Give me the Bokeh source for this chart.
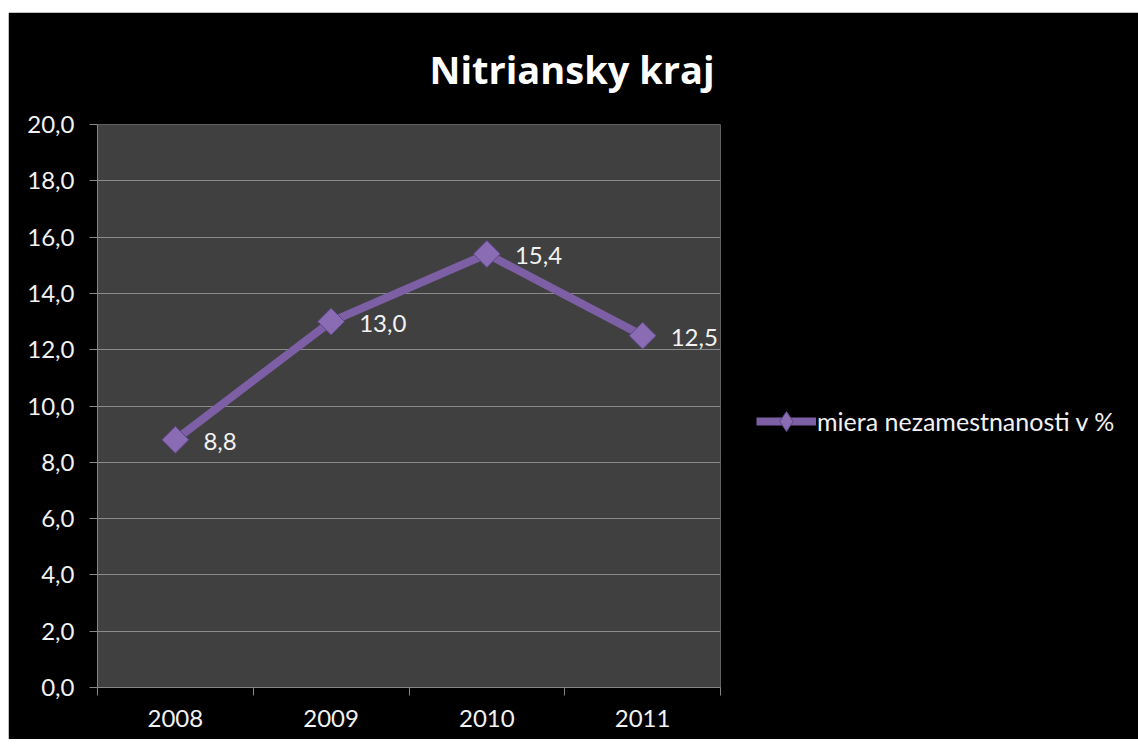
import numpy as np
from bokeh.plotting import figure
from bokeh.models import (Range1d, FixedTicker, LabelSet, ColumnDataSource,
                          Legend, LegendItem)
from bokeh.core.properties import value
from bokeh.embed import file_html
from bokeh.resources import INLINE

# ---- data ----
title_text = "Nitriansky  kraj"
series_name = "miera nezamestnanosti v %"
years = ["2008", "2009", "2010", "2011"]
values = [8.8, 13.0, 15.4, 12.5]
y_ticks = [0, 2, 4, 6, 8, 10, 12, 14, 16, 18, 20]

FONT = "Lato"
TXT = "#f2f2f2"
PURPLE = "#7d5fa6"

idx = [i + 0.5 for i in range(len(years))]
labels = [f"{v:.1f}".replace(".", ",") for v in values]
src = ColumnDataSource(dict(x=idx, y=values, lab=labels))

p = figure(frame_width=623, frame_height=563, output_backend="svg", toolbar_location=None,
           x_range=Range1d(0, len(years)), y_range=Range1d(0, 20),
           min_border_left=89, min_border_right=30, min_border_top=112,
           min_border_bottom=52)
p.margin = (12, 0, 0, 8)
p.background_fill_color = "#404040"
p.border_fill_color = "black"
p.outline_line_color = None

# title
p.title.text = title_text
p.title.align = "left"
p.title.offset = 332
p.title.standoff = 57
p.title.vertical_align = "middle"
p.title.text_color = "white"
p.title.text_font = "Open Sans"
p.title.text_font_style = "bold"
p.title.text_font_size = "38px"

# grid
p.xgrid.grid_line_color = None
p.ygrid.grid_line_color = "#8a8a8a"
p.ygrid.grid_line_width = 1
p.ygrid.ticker = FixedTicker(ticks=y_ticks)

# y axis
ya = p.yaxis[0]
ya.ticker = FixedTicker(ticks=y_ticks)
ya.major_label_overrides = {t: f"{t:.1f}".replace(".", ",") for t in y_ticks}
ya.axis_line_color = "#868686"
ya.major_tick_line_color = "#868686"
ya.major_tick_in = 0
ya.major_tick_out = 8
ya.minor_tick_line_color = None
ya.major_label_text_color = TXT
ya.major_label_text_font = FONT
ya.major_label_text_font_size = "24px"
ya.major_label_standoff = 15

# x axis: labels at category centres, tick marks at category boundaries
xa = p.xaxis[0]
xa.ticker = FixedTicker(ticks=idx, minor_ticks=list(range(len(years) + 1)))
xa.major_label_overrides = {x: y for x, y in zip(idx, years)}
xa.axis_line_color = "#868686"
xa.major_tick_line_color = None
xa.minor_tick_line_color = "#868686"
xa.minor_tick_in = 0
xa.minor_tick_out = 8
xa.major_label_text_color = TXT
xa.major_label_text_font = FONT
xa.major_label_text_font_size = "24px"
xa.major_label_standoff = 14

# series
lr = p.line("x", "y", source=src, line_color=PURPLE, line_width=8, line_join="round")
# diamond used for the legend key (sits fully under the visible markers)
dr = p.scatter("x", "y", source=src, marker="diamond", size=18,
               fill_color="#8a6cb4", line_color="#5f4685", line_width=1)
sr = p.scatter("x", "y", source=src, marker="square", angle=np.pi / 4, size=19,
               fill_color="#8a6cb4", line_color="#5f4685", line_width=1)

ls = LabelSet(x="x", y="y", text="lab", source=src, x_offset=28, y_offset=-2,
              text_color=TXT, text_font=value(FONT), text_font_size="24px",
              text_baseline="middle", text_align="left")
p.add_layout(ls)

# legend
leg = Legend(items=[LegendItem(label=series_name, renderers=[lr, dr])],
             location=(36, 241), background_fill_alpha=0, border_line_color=None,
             padding=0, margin=0, spacing=0, glyph_width=60, glyph_height=50,
             label_standoff=1, label_text_color=TXT, label_text_font=FONT,
             label_text_font_size="25px")
p.add_layout(leg, "right")

open("out.html", "w").write(file_html(p, INLINE))
